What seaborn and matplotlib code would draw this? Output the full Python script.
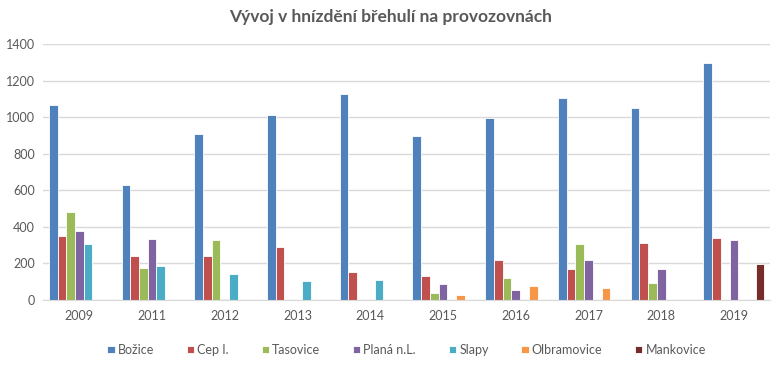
import pandas as pd
import matplotlib.pyplot as plt
import seaborn as sns

# Years and nesting counts per site (NaN = no bar)
years = ['2009', '2011', '2012', '2013', '2014', '2015', '2016', '2017', '2018', '2019']
sites = ['Božice', 'Cep I.', 'Tasovice', 'Planá n.L.', 'Slapy', 'Olbramovice', 'Mankovice']
nan = float('nan')

bozice = [1068, 627, 906, 1015, 1130, 899, 994, 1103, 1052, 1296]
cep = [352, 239, 239, 290, 151, 129, 217, 170, 312, 341]
tasovice = [483, 173, 330, nan, nan, 38, 122, 308, 93, nan]
plana = [377, 334, 7, nan, nan, 89, 57, 221, 170, 326]
slapy = [304, 188, 144, 106, 109, nan, nan, nan, nan, nan]
olbramovice = [nan, nan, nan, nan, nan, 27, 78, 64, nan, nan]
mankovice = [nan, nan, nan, nan, nan, nan, nan, nan, nan, 195]

colors = ['#4F81BD', '#C0504D', '#9BBB59', '#8064A2', '#4BACC6', '#F79646', '#772C2A']

series = [bozice, cep, tasovice, plana, slapy, olbramovice, mankovice]
rows = []
for site, vals in zip(sites, series):
    for yr, v in zip(years, vals):
        rows.append({'rok': yr, 'lokalita': site, 'pocet': v})
df = pd.DataFrame(rows).dropna()

sns.set_style('white')
plt.rcParams['font.family'] = ['Lato', 'DejaVu Sans']

fig = plt.figure(figsize=(7.82, 3.65), dpi=100)
ax = fig.add_axes([0.055, 0.178, 0.93, 0.701])

sns.barplot(data=df, x='rok', y='pocet', hue='lokalita', order=years, hue_order=sites,
            palette=colors, width=0.84, edgecolor='white', linewidth=0.6,
            saturation=1, errorbar=None, ax=ax)

ax.set_ylim(0, 1400)
ax.set_yticks(range(0, 1401, 200))
ax.yaxis.grid(True, color='#D9D9D9', linewidth=1)
ax.set_axisbelow(True)
for s in ['top', 'right', 'left']:
    ax.spines[s].set_visible(False)
ax.spines['bottom'].set_color('#D9D9D9')
ax.tick_params(axis='both', colors='#595959', labelsize=9, length=0)
ax.tick_params(axis='x', pad=7)
ax.tick_params(axis='y', pad=6)
ax.set_xlabel('')
ax.set_ylabel('')

fig.suptitle('Vývoj v hnízdění břehulí na provozovnách', x=0.5, y=0.975,
             fontsize=12.5, fontweight='bold', color='#595959')

handles, labels = ax.get_legend_handles_labels()
ax.legend(handles, labels, loc='center', bbox_to_anchor=(0.5, -0.195), ncol=7,
          frameon=False, fontsize=9, handlelength=0.6, handleheight=0.6,
          columnspacing=2.6, handletextpad=0.25, labelcolor='#595959')

plt.savefig('out.png', dpi=100)
